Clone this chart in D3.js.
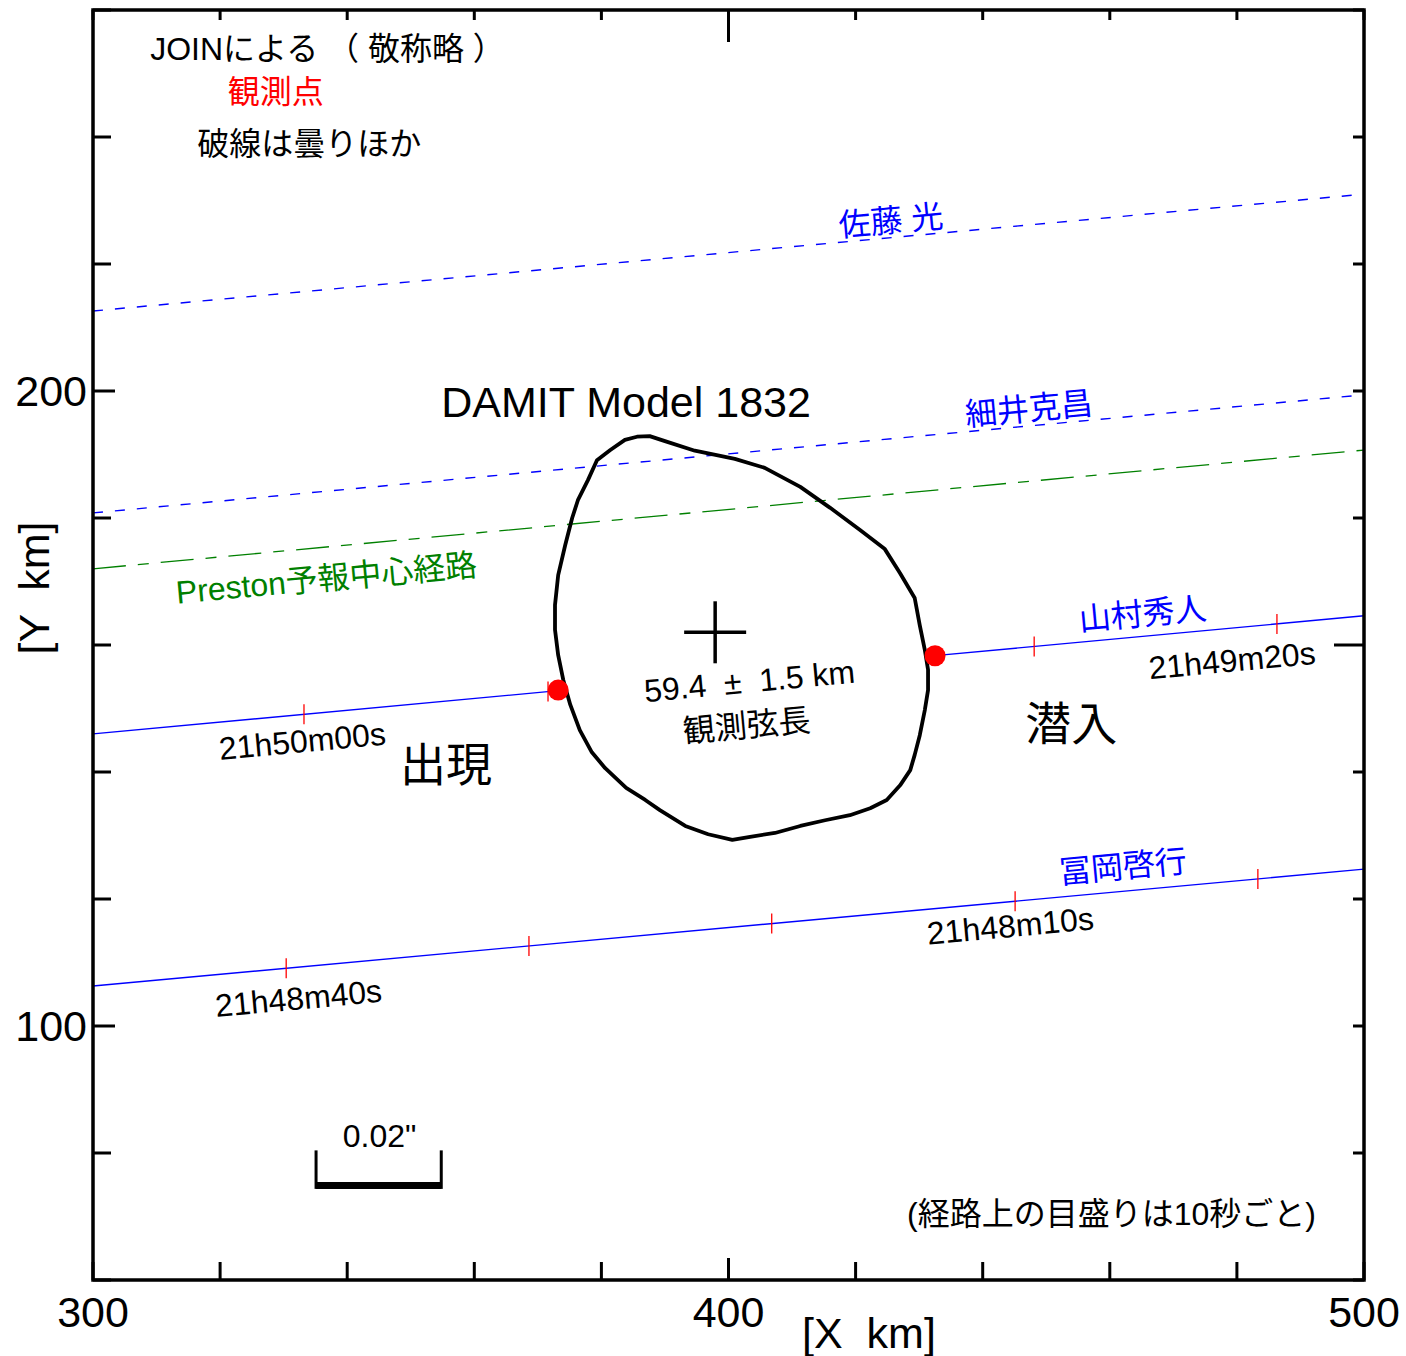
<!DOCTYPE html>
<html>
<head>
<meta charset="utf-8">
<script src="https://cdn.jsdelivr.net/npm/d3@7"></script>
<style>
  html, body { margin: 0; padding: 0; background: #fff; }
  svg text { font-family: "Liberation Sans", Arial, "Noto Sans CJK JP", sans-serif; white-space: pre; }
</style>
</head>
<body>
<script>
// ---------- DATA (km) ----------
const xDomain = [300, 500];
const yDomain = [60, 260];
const xTickValues = d3.range(300, 501, 20);
const yTickValues = d3.range(60, 261, 20);
const xTickLabels = [300, 400, 500];
const yTickLabels = [100, 200];

// Chords: [name, y at x=300, y at x=500]
const chordNames = ["佐藤 光", "細井克昌", "Preston予報中心経路", "山村秀人", "冨岡啓行"];
const chordY300 = [212.6, 180.8, 172.0, 146.0, 106.3];
const chordY500 = [231.0, 199.4, 190.7, 164.6, 124.7];
const chordKind = ["cloud", "cloud", "prediction", "positive", "miss"];

// 山村 visible segments (x-extent), broken at disappearance/reappearance
const yamamuraSegments = [[300, 373.2], [432.5, 500]];
// 10-second marks along tracks (x in km)
const yamamuraMarks = [333.2, 371.6, 448.1, 486.3];
const tomiokaMarks = [330.4, 368.6, 406.8, 445.1, 483.3];
// observed disappearance / reappearance points
const eventX = [373.2, 432.5];
const eventY = [152.9, 158.3];

// DAMIT model 1832 outline (km)
const outlineX = [385.6,387.6,390.0,394.7,401.0,405.7,411.3,416.0,420.7,424.6,427.0,429.3,430.1,430.9,431.4,431.4,430.9,430.1,429.3,428.6,427.0,424.9,422.3,419.1,415.2,411.3,407.3,403.4,400.6,396.8,393.2,389.2,386.9,383.9,380.6,378.5,376.6,375.1,374.0,373.2,372.7,372.7,373.2,374.3,375.4,376.3,377.9,379.3,381.4,383.7];
const outlineY = [192.8,192.9,192.1,190.6,189.3,187.9,184.9,181.6,178.1,175.1,171.3,167.4,163.1,159.2,156.1,152.9,149.8,145.8,142.7,140.3,137.9,135.6,134.3,133.2,132.4,131.5,130.4,129.8,129.3,130.2,131.5,134.0,135.6,137.5,140.6,143.1,146.6,150.6,154.5,158.4,162.4,166.3,171.0,175.7,180.0,182.8,186.0,189.1,190.7,192.3];
const centerX = 397.9, centerY = 162.0;

// angular scale bar 0.02" (km extent)
const scaleBarX = [335.1, 354.8];
const scaleBarY = 74.9;

// time labels
const timeLabels = ["21h49m20s", "21h50m00s", "21h48m10s", "21h48m40s"];

// ---------- LAYOUT ----------
const W = 1406, H = 1356;
const m = {left: 93, top: 10, right: 42, bottom: 76};
const x = d3.scaleLinear().domain(xDomain).range([m.left, W - m.right]);
const y = d3.scaleLinear().domain(yDomain).range([H - m.bottom, m.top]);

const svg = d3.select("body").append("svg").attr("width", W).attr("height", H);
const FS = 32;
const blue = "#0000ff", green = "#008000", red = "#ff0000";

// slope angle of tracks in screen degrees
const ang = -Math.atan2(y(chordY300[3]) - y(chordY500[3]), x(500) - x(300)) * 180 / Math.PI;

function trackY(i, xv) { return chordY300[i] + (chordY500[i] - chordY300[i]) * (xv - 300) / 200; }

// ---------- TRACKS ----------
const gTracks = svg.append("g");
chordKind.forEach((k, i) => {
  if (k === "positive") return;
  const ln = gTracks.append("line")
    .attr("x1", x(300)).attr("y1", y(chordY300[i]))
    .attr("x2", x(500)).attr("y2", y(chordY500[i]))
    .attr("fill", "none");
  if (k === "cloud") ln.attr("stroke", blue).attr("stroke-width", 1.4).attr("stroke-dasharray", "10,12");
  if (k === "prediction") ln.attr("stroke", green).attr("stroke-width", 1.3).attr("stroke-dasharray", "33,12,11,12");
  if (k === "miss") ln.attr("stroke", blue).attr("stroke-width", 1.4);
});
yamamuraSegments.forEach(s => {
  gTracks.append("line")
    .attr("x1", x(s[0])).attr("y1", y(trackY(3, s[0])))
    .attr("x2", x(s[1])).attr("y2", y(trackY(3, s[1])))
    .attr("stroke", blue).attr("stroke-width", 1.4);
});
gTracks.selectAll(".ym").data(yamamuraMarks).join("line")
  .attr("x1", d => x(d)).attr("x2", d => x(d))
  .attr("y1", d => y(trackY(3, d)) - 10).attr("y2", d => y(trackY(3, d)) + 10)
  .attr("stroke", red).attr("stroke-width", 1.3);
gTracks.selectAll(".tm").data(tomiokaMarks).join("line")
  .attr("x1", d => x(d)).attr("x2", d => x(d))
  .attr("y1", d => y(trackY(4, d)) - 10).attr("y2", d => y(trackY(4, d)) + 10)
  .attr("stroke", red).attr("stroke-width", 1.3);

// ---------- OUTLINE ----------
const outline = outlineX.map((v, i) => [v, outlineY[i]]);
svg.append("path")
  .attr("d", d3.line().x(d => x(d[0])).y(d => y(d[1])).curve(d3.curveLinearClosed)(outline))
  .attr("fill", "none").attr("stroke", "#000").attr("stroke-width", 3.8).attr("stroke-linejoin", "round");

// center cross
svg.append("line").attr("x1", x(centerX) - 31).attr("x2", x(centerX) + 31)
  .attr("y1", y(centerY)).attr("y2", y(centerY)).attr("stroke", "#000").attr("stroke-width", 3.5);
svg.append("line").attr("x1", x(centerX)).attr("x2", x(centerX))
  .attr("y1", y(centerY) - 31).attr("y2", y(centerY) + 31).attr("stroke", "#000").attr("stroke-width", 3.5);

// events
svg.selectAll(".ev").data(eventX).join("circle")
  .attr("cx", d => x(d)).attr("cy", (d, i) => y(eventY[i])).attr("r", 10.5).attr("fill", red);

// ---------- SCALE BAR ----------
const sb = svg.append("g");
sb.append("line").attr("x1", x(scaleBarX[0])).attr("x2", x(scaleBarX[1]))
  .attr("y1", y(scaleBarY)).attr("y2", y(scaleBarY)).attr("stroke", "#000").attr("stroke-width", 7);
scaleBarX.forEach(v => {
  sb.append("line").attr("x1", x(v)).attr("x2", x(v))
    .attr("y1", y(scaleBarY) + 3.5).attr("y2", y(scaleBarY) - 35).attr("stroke", "#000").attr("stroke-width", 3);
});

// ---------- TEXT ----------
function label(txt, xv, yv, opts = {}) {
  const t = svg.append("text")
    .attr("transform", `translate(${x(xv)},${y(yv)}) rotate(${opts.rot || 0})`)
    .attr("font-size", opts.size || FS)
    .attr("fill", opts.color || "#000")
    .attr("text-anchor", opts.anchor || "start")
    .text(txt);
  return t;
}
label("JOINによる （ 敬称略 ）", 309.0, 252.1);
label("観測点", 321.2, 245.4, {color: red});
label("破線は曇りほか", 316.4, 237.2);
label(chordNames[0], 417.5, 224.3, {color: blue, rot: ang});
label(chordNames[1], 437.4, 194.5, {color: blue, rot: ang});
label("DAMIT Model 1832", 354.8, 195.9, {size: 43});
label(chordNames[2], 313.2, 166.5, {color: green, rot: ang});
label(chordNames[3], 455.3, 162.2, {color: blue, rot: ang});
label(timeLabels[0], 466.3, 154.6, {rot: ang});
label("59.4  ±  1.5 km", 386.9, 151.0, {rot: ang});
label("観測弦長", 393.0, 144.6, {rot: ang});
label("潜入", 446.7, 145.0, {size: 46});
label("出現", 348.3, 138.6, {size: 46});
label(timeLabels[1], 320.0, 141.9, {rot: ang});
label(chordNames[4], 452.2, 122.4, {color: blue, rot: ang});
label(timeLabels[2], 431.4, 112.8, {rot: ang});
label(timeLabels[3], 319.4, 101.4, {rot: ang});
label("0.02\"", 339.3, 80.9);
label("(経路上の目盛りは10秒ごと)", 428.1, 68.6);

// ---------- AXES / FRAME ----------
const ax = svg.append("g").attr("stroke", "#000").attr("stroke-width", 3);
// bottom ticks (inward)
ax.selectAll(".bt").data(xTickValues).join("line")
  .attr("x1", d => x(d)).attr("x2", d => x(d))
  .attr("y1", y(60)).attr("y2", d => y(60) - (d === 400 ? 22 : 18));
// top ticks
ax.selectAll(".tt").data(xTickValues).join("line")
  .attr("x1", d => x(d)).attr("x2", d => x(d))
  .attr("y1", y(260)).attr("y2", d => y(260) + (d === 400 ? 32 : 10));
// left ticks
ax.selectAll(".lt").data(yTickValues).join("line")
  .attr("y1", d => y(d)).attr("y2", d => y(d))
  .attr("x1", x(300)).attr("x2", d => x(300) + (d % 100 === 0 ? 22 : 18));
// right ticks
ax.selectAll(".rt").data(yTickValues).join("line")
  .attr("y1", d => y(d)).attr("y2", d => y(d))
  .attr("x1", x(500)).attr("x2", d => x(500) - (d === 160 ? 30 : 11));
// frame
svg.append("rect").attr("x", x(300)).attr("y", y(260))
  .attr("width", x(500) - x(300)).attr("height", y(60) - y(260))
  .attr("fill", "none").attr("stroke", "#000").attr("stroke-width", 3.5);

// tick labels
svg.selectAll(".xl").data(xTickLabels).join("text")
  .attr("x", d => x(d)).attr("y", H - 29).attr("text-anchor", "middle")
  .attr("font-size", 43).text(d => d);
svg.selectAll(".yl").data(yTickLabels).join("text")
  .attr("x", x(300) - 6).attr("y", d => y(d) + 15).attr("text-anchor", "end")
  .attr("font-size", 43).text(d => d);

// axis titles
svg.append("text").attr("x", 869).attr("y", H - 8).attr("text-anchor", "middle")
  .attr("font-size", 43).text("[X  km]");
svg.append("text").attr("transform", `translate(49,588) rotate(-90)`).attr("text-anchor", "middle")
  .attr("font-size", 43).text("[Y  km]");
</script>
</body>
</html>
